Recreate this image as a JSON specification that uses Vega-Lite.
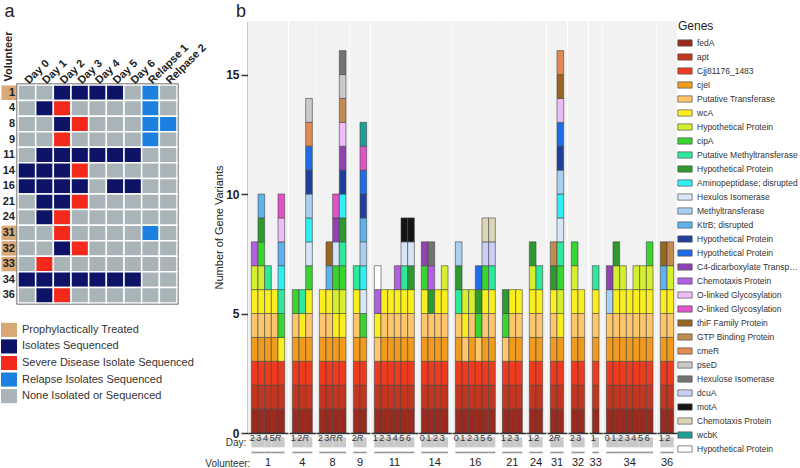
{
"$schema": "https://vega.github.io/schema/vega-lite/v6.json",
"padding": {"left": 0, "top": 3, "right": 0, "bottom": 0},
"config": {"font": "Liberation Sans", "view": {"stroke": null}},
"datasets": {
"genes": [
{"k":"F","name":"fedA"},{"k":"A","name":"apt"},{"k":"C","name":"Cjj81176_1483"},{"k":"J","name":"cjeI"},{"k":"T","name":"Putative Transferase"},{"k":"W","name":"wcA"},{"k":"H1","name":"Hypothetical Protein #1"},{"k":"P","name":"cipA"},{"k":"M","name":"Putative Methyltransferase"},{"k":"H2","name":"Hypothetical Protein #2"},{"k":"Am","name":"Aminopeptidase; disrupted"},{"k":"X","name":"Hexulos Isomerase"},{"k":"Me","name":"Methyltransferase"},{"k":"K","name":"KtrB; disrupted"},{"k":"H3","name":"Hypothetical Protein #3"},{"k":"H4","name":"Hypothetical Protein #4"},{"k":"C4","name":"C4-dicarboxylate Transport"},{"k":"Ch1","name":"Chemotaxis Protein #1"},{"k":"O1","name":"O-linked Glycosylation #1"},{"k":"O2","name":"O-linked Glycosylation #2"},{"k":"Th","name":"thiF Family Protein"},{"k":"G","name":"GTP Binding Protein"},{"k":"Cm","name":"cmeR"},{"k":"Ps","name":"pseD"},{"k":"Hx","name":"Hexulose Isomerase"},{"k":"Dc","name":"dcuA"},{"k":"Mo","name":"motA"},{"k":"Ch2","name":"Chemotaxis Protein #2"},{"k":"Wk","name":"wcbK"},{"k":"H5","name":"Hypothetical Protein #5"}
],
"vol": [
{"v":1,"p":true},{"v":4,"p":false},{"v":8,"p":false},{"v":9,"p":false},{"v":11,"p":false},{"v":14,"p":false},{"v":16,"p":false},{"v":21,"p":false},{"v":24,"p":false},{"v":31,"p":true},{"v":32,"p":true},{"v":33,"p":true},{"v":34,"p":false},{"v":36,"p":false}
],
"legA": [
{"s":"P","label":"Prophylactically Treated"},{"s":"I","label":"Isolates Sequenced"},{"s":"S","label":"Severe Disease Isolate Sequenced"},{"s":"R","label":"Relapse Isolates Sequenced"},{"s":"N","label":"None Isolated or Sequenced"}
],
"cells": [
{"v":1,"c":"D0","s":"N"},{"v":1,"c":"D1","s":"N"},{"v":1,"c":"D2","s":"I"},{"v":1,"c":"D3","s":"I"},{"v":1,"c":"D4","s":"I"},{"v":1,"c":"D5","s":"I"},{"v":1,"c":"D6","s":"N"},{"v":1,"c":"R1","s":"R"},{"v":1,"c":"R2","s":"N"},
{"v":4,"c":"D0","s":"N"},{"v":4,"c":"D1","s":"I"},{"v":4,"c":"D2","s":"S"},{"v":4,"c":"D3","s":"N"},{"v":4,"c":"D4","s":"N"},{"v":4,"c":"D5","s":"N"},{"v":4,"c":"D6","s":"N"},{"v":4,"c":"R1","s":"R"},{"v":4,"c":"R2","s":"N"},
{"v":8,"c":"D0","s":"N"},{"v":8,"c":"D1","s":"N"},{"v":8,"c":"D2","s":"I"},{"v":8,"c":"D3","s":"S"},{"v":8,"c":"D4","s":"N"},{"v":8,"c":"D5","s":"N"},{"v":8,"c":"D6","s":"N"},{"v":8,"c":"R1","s":"R"},{"v":8,"c":"R2","s":"R"},
{"v":9,"c":"D0","s":"N"},{"v":9,"c":"D1","s":"N"},{"v":9,"c":"D2","s":"S"},{"v":9,"c":"D3","s":"N"},{"v":9,"c":"D4","s":"N"},{"v":9,"c":"D5","s":"N"},{"v":9,"c":"D6","s":"N"},{"v":9,"c":"R1","s":"R"},{"v":9,"c":"R2","s":"N"},
{"v":11,"c":"D0","s":"N"},{"v":11,"c":"D1","s":"I"},{"v":11,"c":"D2","s":"I"},{"v":11,"c":"D3","s":"I"},{"v":11,"c":"D4","s":"I"},{"v":11,"c":"D5","s":"I"},{"v":11,"c":"D6","s":"I"},{"v":11,"c":"R1","s":"N"},{"v":11,"c":"R2","s":"N"},
{"v":14,"c":"D0","s":"I"},{"v":14,"c":"D1","s":"I"},{"v":14,"c":"D2","s":"I"},{"v":14,"c":"D3","s":"S"},{"v":14,"c":"D4","s":"N"},{"v":14,"c":"D5","s":"N"},{"v":14,"c":"D6","s":"N"},{"v":14,"c":"R1","s":"N"},{"v":14,"c":"R2","s":"N"},
{"v":16,"c":"D0","s":"I"},{"v":16,"c":"D1","s":"I"},{"v":16,"c":"D2","s":"I"},{"v":16,"c":"D3","s":"I"},{"v":16,"c":"D4","s":"N"},{"v":16,"c":"D5","s":"I"},{"v":16,"c":"D6","s":"I"},{"v":16,"c":"R1","s":"N"},{"v":16,"c":"R2","s":"N"},
{"v":21,"c":"D0","s":"N"},{"v":21,"c":"D1","s":"I"},{"v":21,"c":"D2","s":"I"},{"v":21,"c":"D3","s":"S"},{"v":21,"c":"D4","s":"N"},{"v":21,"c":"D5","s":"N"},{"v":21,"c":"D6","s":"N"},{"v":21,"c":"R1","s":"N"},{"v":21,"c":"R2","s":"N"},
{"v":24,"c":"D0","s":"N"},{"v":24,"c":"D1","s":"I"},{"v":24,"c":"D2","s":"S"},{"v":24,"c":"D3","s":"N"},{"v":24,"c":"D4","s":"N"},{"v":24,"c":"D5","s":"N"},{"v":24,"c":"D6","s":"N"},{"v":24,"c":"R1","s":"N"},{"v":24,"c":"R2","s":"N"},
{"v":31,"c":"D0","s":"N"},{"v":31,"c":"D1","s":"N"},{"v":31,"c":"D2","s":"S"},{"v":31,"c":"D3","s":"N"},{"v":31,"c":"D4","s":"N"},{"v":31,"c":"D5","s":"N"},{"v":31,"c":"D6","s":"N"},{"v":31,"c":"R1","s":"R"},{"v":31,"c":"R2","s":"N"},
{"v":32,"c":"D0","s":"N"},{"v":32,"c":"D1","s":"N"},{"v":32,"c":"D2","s":"I"},{"v":32,"c":"D3","s":"S"},{"v":32,"c":"D4","s":"N"},{"v":32,"c":"D5","s":"N"},{"v":32,"c":"D6","s":"N"},{"v":32,"c":"R1","s":"N"},{"v":32,"c":"R2","s":"N"},
{"v":33,"c":"D0","s":"N"},{"v":33,"c":"D1","s":"S"},{"v":33,"c":"D2","s":"N"},{"v":33,"c":"D3","s":"N"},{"v":33,"c":"D4","s":"N"},{"v":33,"c":"D5","s":"N"},{"v":33,"c":"D6","s":"N"},{"v":33,"c":"R1","s":"N"},{"v":33,"c":"R2","s":"N"},
{"v":34,"c":"D0","s":"I"},{"v":34,"c":"D1","s":"I"},{"v":34,"c":"D2","s":"I"},{"v":34,"c":"D3","s":"I"},{"v":34,"c":"D4","s":"I"},{"v":34,"c":"D5","s":"I"},{"v":34,"c":"D6","s":"I"},{"v":34,"c":"R1","s":"N"},{"v":34,"c":"R2","s":"N"},
{"v":36,"c":"D0","s":"N"},{"v":36,"c":"D1","s":"I"},{"v":36,"c":"D2","s":"S"},{"v":36,"c":"D3","s":"N"},{"v":36,"c":"D4","s":"N"},{"v":36,"c":"D5","s":"N"},{"v":36,"c":"D6","s":"N"},{"v":36,"c":"R1","s":"N"},{"v":36,"c":"R2","s":"N"}
],
"seg": [
{"v":1,"d":"2","o":1,"g":"F"},{"v":1,"d":"2","o":2,"g":"A"},{"v":1,"d":"2","o":3,"g":"C"},{"v":1,"d":"2","o":4,"g":"J"},{"v":1,"d":"2","o":5,"g":"T"},{"v":1,"d":"2","o":6,"g":"W"},{"v":1,"d":"2","o":7,"g":"H1"},{"v":1,"d":"2","o":8,"g":"Ch1"},
{"v":1,"d":"3","o":1,"g":"F"},{"v":1,"d":"3","o":2,"g":"A"},{"v":1,"d":"3","o":3,"g":"C"},{"v":1,"d":"3","o":4,"g":"J"},{"v":1,"d":"3","o":5,"g":"T"},{"v":1,"d":"3","o":6,"g":"W"},{"v":1,"d":"3","o":7,"g":"H1"},{"v":1,"d":"3","o":8,"g":"P"},{"v":1,"d":"3","o":9,"g":"H2"},{"v":1,"d":"3","o":10,"g":"K"},
{"v":1,"d":"4","o":1,"g":"F"},{"v":1,"d":"4","o":2,"g":"A"},{"v":1,"d":"4","o":3,"g":"C"},{"v":1,"d":"4","o":4,"g":"J"},{"v":1,"d":"4","o":5,"g":"T"},{"v":1,"d":"4","o":6,"g":"W"},{"v":1,"d":"4","o":7,"g":"M"},
{"v":1,"d":"5","o":1,"g":"F"},{"v":1,"d":"5","o":2,"g":"A"},{"v":1,"d":"5","o":3,"g":"C"},{"v":1,"d":"5","o":4,"g":"J"},{"v":1,"d":"5","o":5,"g":"T"},{"v":1,"d":"5","o":6,"g":"W"},
{"v":1,"d":"R","o":1,"g":"F"},{"v":1,"d":"R","o":2,"g":"A"},{"v":1,"d":"R","o":3,"g":"C"},{"v":1,"d":"R","o":4,"g":"W"},{"v":1,"d":"R","o":5,"g":"P"},{"v":1,"d":"R","o":6,"g":"M"},{"v":1,"d":"R","o":7,"g":"Am"},{"v":1,"d":"R","o":8,"g":"K"},{"v":1,"d":"R","o":9,"g":"O1"},{"v":1,"d":"R","o":10,"g":"O2"},
{"v":4,"d":"1","o":1,"g":"F"},{"v":4,"d":"1","o":2,"g":"A"},{"v":4,"d":"1","o":3,"g":"C"},{"v":4,"d":"1","o":4,"g":"J"},{"v":4,"d":"1","o":5,"g":"T"},{"v":4,"d":"1","o":6,"g":"P"},
{"v":4,"d":"2","o":1,"g":"F"},{"v":4,"d":"2","o":2,"g":"A"},{"v":4,"d":"2","o":3,"g":"C"},{"v":4,"d":"2","o":4,"g":"J"},{"v":4,"d":"2","o":5,"g":"W"},{"v":4,"d":"2","o":6,"g":"M"},
{"v":4,"d":"R","o":1,"g":"F"},{"v":4,"d":"R","o":2,"g":"A"},{"v":4,"d":"R","o":3,"g":"C"},{"v":4,"d":"R","o":4,"g":"J"},{"v":4,"d":"R","o":5,"g":"T"},{"v":4,"d":"R","o":6,"g":"W"},{"v":4,"d":"R","o":7,"g":"P"},{"v":4,"d":"R","o":8,"g":"X"},{"v":4,"d":"R","o":9,"g":"Am"},{"v":4,"d":"R","o":10,"g":"Me"},{"v":4,"d":"R","o":11,"g":"H3"},{"v":4,"d":"R","o":12,"g":"H4"},{"v":4,"d":"R","o":13,"g":"Cm"},{"v":4,"d":"R","o":14,"g":"Ps"},
{"v":8,"d":"2","o":1,"g":"F"},{"v":8,"d":"2","o":2,"g":"A"},{"v":8,"d":"2","o":3,"g":"C"},{"v":8,"d":"2","o":4,"g":"J"},{"v":8,"d":"2","o":5,"g":"T"},{"v":8,"d":"2","o":6,"g":"W"},
{"v":8,"d":"3","o":1,"g":"F"},{"v":8,"d":"3","o":2,"g":"A"},{"v":8,"d":"3","o":3,"g":"C"},{"v":8,"d":"3","o":4,"g":"J"},{"v":8,"d":"3","o":5,"g":"T"},{"v":8,"d":"3","o":6,"g":"W"},{"v":8,"d":"3","o":7,"g":"K"},{"v":8,"d":"3","o":8,"g":"Th"},
{"v":8,"d":"R","o":1,"g":"F"},{"v":8,"d":"R","o":2,"g":"A"},{"v":8,"d":"R","o":3,"g":"C"},{"v":8,"d":"R","o":4,"g":"J"},{"v":8,"d":"R","o":5,"g":"W"},{"v":8,"d":"R","o":6,"g":"H1"},{"v":8,"d":"R","o":7,"g":"P"},{"v":8,"d":"R","o":8,"g":"X"},{"v":8,"d":"R","o":9,"g":"C4"},{"v":8,"d":"R","o":10,"g":"O2"},
{"v":8,"d":"R#2","o":1,"g":"F"},{"v":8,"d":"R#2","o":2,"g":"A"},{"v":8,"d":"R#2","o":3,"g":"C"},{"v":8,"d":"R#2","o":4,"g":"J"},{"v":8,"d":"R#2","o":5,"g":"W"},{"v":8,"d":"R#2","o":6,"g":"H1"},{"v":8,"d":"R#2","o":7,"g":"P"},{"v":8,"d":"R#2","o":8,"g":"M"},{"v":8,"d":"R#2","o":9,"g":"H2"},{"v":8,"d":"R#2","o":10,"g":"Am"},{"v":8,"d":"R#2","o":11,"g":"H3"},{"v":8,"d":"R#2","o":12,"g":"C4"},{"v":8,"d":"R#2","o":13,"g":"O1"},{"v":8,"d":"R#2","o":14,"g":"G"},{"v":8,"d":"R#2","o":15,"g":"Ps"},{"v":8,"d":"R#2","o":16,"g":"Hx"},
{"v":9,"d":"2","o":1,"g":"F"},{"v":9,"d":"2","o":2,"g":"A"},{"v":9,"d":"2","o":3,"g":"C"},{"v":9,"d":"2","o":4,"g":"J"},{"v":9,"d":"2","o":5,"g":"T"},{"v":9,"d":"2","o":6,"g":"W"},{"v":9,"d":"2","o":7,"g":"M"},
{"v":9,"d":"R","o":1,"g":"F"},{"v":9,"d":"R","o":2,"g":"A"},{"v":9,"d":"R","o":3,"g":"C"},{"v":9,"d":"R","o":4,"g":"J"},{"v":9,"d":"R","o":5,"g":"P"},{"v":9,"d":"R","o":6,"g":"X"},{"v":9,"d":"R","o":7,"g":"Am"},{"v":9,"d":"R","o":8,"g":"Me"},{"v":9,"d":"R","o":9,"g":"K"},{"v":9,"d":"R","o":10,"g":"H3"},{"v":9,"d":"R","o":11,"g":"H4"},{"v":9,"d":"R","o":12,"g":"O2"},{"v":9,"d":"R","o":13,"g":"Wk"},
{"v":11,"d":"1","o":1,"g":"F"},{"v":11,"d":"1","o":2,"g":"A"},{"v":11,"d":"1","o":3,"g":"C"},{"v":11,"d":"1","o":4,"g":"T"},{"v":11,"d":"1","o":5,"g":"W"},{"v":11,"d":"1","o":6,"g":"Ch1"},{"v":11,"d":"1","o":7,"g":"H5"},
{"v":11,"d":"2","o":1,"g":"F"},{"v":11,"d":"2","o":2,"g":"A"},{"v":11,"d":"2","o":3,"g":"C"},{"v":11,"d":"2","o":4,"g":"J"},{"v":11,"d":"2","o":5,"g":"T"},{"v":11,"d":"2","o":6,"g":"W"},
{"v":11,"d":"3","o":1,"g":"F"},{"v":11,"d":"3","o":2,"g":"A"},{"v":11,"d":"3","o":3,"g":"C"},{"v":11,"d":"3","o":4,"g":"J"},{"v":11,"d":"3","o":5,"g":"T"},{"v":11,"d":"3","o":6,"g":"W"},
{"v":11,"d":"4","o":1,"g":"F"},{"v":11,"d":"4","o":2,"g":"A"},{"v":11,"d":"4","o":3,"g":"C"},{"v":11,"d":"4","o":4,"g":"J"},{"v":11,"d":"4","o":5,"g":"T"},{"v":11,"d":"4","o":6,"g":"W"},{"v":11,"d":"4","o":7,"g":"Ch1"},
{"v":11,"d":"5","o":1,"g":"F"},{"v":11,"d":"5","o":2,"g":"A"},{"v":11,"d":"5","o":3,"g":"C"},{"v":11,"d":"5","o":4,"g":"J"},{"v":11,"d":"5","o":5,"g":"T"},{"v":11,"d":"5","o":6,"g":"W"},{"v":11,"d":"5","o":7,"g":"M"},{"v":11,"d":"5","o":8,"g":"X"},{"v":11,"d":"5","o":9,"g":"Mo"},
{"v":11,"d":"6","o":1,"g":"F"},{"v":11,"d":"6","o":2,"g":"A"},{"v":11,"d":"6","o":3,"g":"C"},{"v":11,"d":"6","o":4,"g":"J"},{"v":11,"d":"6","o":5,"g":"T"},{"v":11,"d":"6","o":6,"g":"W"},{"v":11,"d":"6","o":7,"g":"H2"},{"v":11,"d":"6","o":8,"g":"X"},{"v":11,"d":"6","o":9,"g":"Mo"},
{"v":14,"d":"0","o":1,"g":"F"},{"v":14,"d":"0","o":2,"g":"A"},{"v":14,"d":"0","o":3,"g":"C"},{"v":14,"d":"0","o":4,"g":"J"},{"v":14,"d":"0","o":5,"g":"T"},{"v":14,"d":"0","o":6,"g":"W"},{"v":14,"d":"0","o":7,"g":"P"},{"v":14,"d":"0","o":8,"g":"C4"},
{"v":14,"d":"1","o":1,"g":"F"},{"v":14,"d":"1","o":2,"g":"A"},{"v":14,"d":"1","o":3,"g":"C"},{"v":14,"d":"1","o":4,"g":"J"},{"v":14,"d":"1","o":5,"g":"T"},{"v":14,"d":"1","o":6,"g":"H2"},{"v":14,"d":"1","o":7,"g":"Ch1"},{"v":14,"d":"1","o":8,"g":"Hx"},
{"v":14,"d":"2","o":1,"g":"F"},{"v":14,"d":"2","o":2,"g":"A"},{"v":14,"d":"2","o":3,"g":"C"},{"v":14,"d":"2","o":4,"g":"J"},{"v":14,"d":"2","o":5,"g":"T"},{"v":14,"d":"2","o":6,"g":"W"},
{"v":14,"d":"3","o":1,"g":"F"},{"v":14,"d":"3","o":2,"g":"A"},{"v":14,"d":"3","o":3,"g":"C"},{"v":14,"d":"3","o":4,"g":"J"},{"v":14,"d":"3","o":5,"g":"T"},{"v":14,"d":"3","o":6,"g":"W"},{"v":14,"d":"3","o":7,"g":"H1"},
{"v":16,"d":"0","o":1,"g":"F"},{"v":16,"d":"0","o":2,"g":"A"},{"v":16,"d":"0","o":3,"g":"C"},{"v":16,"d":"0","o":4,"g":"J"},{"v":16,"d":"0","o":5,"g":"T"},{"v":16,"d":"0","o":6,"g":"M"},{"v":16,"d":"0","o":7,"g":"H2"},{"v":16,"d":"0","o":8,"g":"Me"},
{"v":16,"d":"1","o":1,"g":"F"},{"v":16,"d":"1","o":2,"g":"A"},{"v":16,"d":"1","o":3,"g":"C"},{"v":16,"d":"1","o":4,"g":"T"},{"v":16,"d":"1","o":5,"g":"W"},{"v":16,"d":"1","o":6,"g":"H1"},
{"v":16,"d":"2","o":1,"g":"F"},{"v":16,"d":"2","o":2,"g":"A"},{"v":16,"d":"2","o":3,"g":"C"},{"v":16,"d":"2","o":4,"g":"J"},{"v":16,"d":"2","o":5,"g":"T"},{"v":16,"d":"2","o":6,"g":"H1"},
{"v":16,"d":"3","o":1,"g":"F"},{"v":16,"d":"3","o":2,"g":"A"},{"v":16,"d":"3","o":3,"g":"C"},{"v":16,"d":"3","o":4,"g":"T"},{"v":16,"d":"3","o":5,"g":"P"},{"v":16,"d":"3","o":6,"g":"H2"},{"v":16,"d":"3","o":7,"g":"H4"},
{"v":16,"d":"5","o":1,"g":"F"},{"v":16,"d":"5","o":2,"g":"A"},{"v":16,"d":"5","o":3,"g":"C"},{"v":16,"d":"5","o":4,"g":"J"},{"v":16,"d":"5","o":5,"g":"T"},{"v":16,"d":"5","o":6,"g":"W"},{"v":16,"d":"5","o":7,"g":"P"},{"v":16,"d":"5","o":8,"g":"Dc"},{"v":16,"d":"5","o":9,"g":"Ch2"},
{"v":16,"d":"6","o":1,"g":"F"},{"v":16,"d":"6","o":2,"g":"A"},{"v":16,"d":"6","o":3,"g":"C"},{"v":16,"d":"6","o":4,"g":"J"},{"v":16,"d":"6","o":5,"g":"T"},{"v":16,"d":"6","o":6,"g":"W"},{"v":16,"d":"6","o":7,"g":"M"},{"v":16,"d":"6","o":8,"g":"Dc"},{"v":16,"d":"6","o":9,"g":"Ch2"},
{"v":21,"d":"1","o":1,"g":"F"},{"v":21,"d":"1","o":2,"g":"A"},{"v":21,"d":"1","o":3,"g":"C"},{"v":21,"d":"1","o":4,"g":"T"},{"v":21,"d":"1","o":5,"g":"P"},{"v":21,"d":"1","o":6,"g":"H2"},
{"v":21,"d":"2","o":1,"g":"F"},{"v":21,"d":"2","o":2,"g":"A"},{"v":21,"d":"2","o":3,"g":"C"},{"v":21,"d":"2","o":4,"g":"J"},{"v":21,"d":"2","o":5,"g":"T"},{"v":21,"d":"2","o":6,"g":"W"},
{"v":21,"d":"3","o":1,"g":"F"},{"v":21,"d":"3","o":2,"g":"A"},{"v":21,"d":"3","o":3,"g":"C"},{"v":21,"d":"3","o":4,"g":"J"},{"v":21,"d":"3","o":5,"g":"T"},{"v":21,"d":"3","o":6,"g":"W"},
{"v":24,"d":"1","o":1,"g":"F"},{"v":24,"d":"1","o":2,"g":"A"},{"v":24,"d":"1","o":3,"g":"C"},{"v":24,"d":"1","o":4,"g":"J"},{"v":24,"d":"1","o":5,"g":"T"},{"v":24,"d":"1","o":6,"g":"W"},{"v":24,"d":"1","o":7,"g":"H1"},{"v":24,"d":"1","o":8,"g":"H2"},
{"v":24,"d":"2","o":1,"g":"F"},{"v":24,"d":"2","o":2,"g":"A"},{"v":24,"d":"2","o":3,"g":"C"},{"v":24,"d":"2","o":4,"g":"J"},{"v":24,"d":"2","o":5,"g":"T"},{"v":24,"d":"2","o":6,"g":"W"},{"v":24,"d":"2","o":7,"g":"M"},
{"v":31,"d":"2","o":1,"g":"F"},{"v":31,"d":"2","o":2,"g":"A"},{"v":31,"d":"2","o":3,"g":"C"},{"v":31,"d":"2","o":4,"g":"J"},{"v":31,"d":"2","o":5,"g":"T"},{"v":31,"d":"2","o":6,"g":"W"},{"v":31,"d":"2","o":7,"g":"H2"},{"v":31,"d":"2","o":8,"g":"G"},
{"v":31,"d":"R","o":1,"g":"F"},{"v":31,"d":"R","o":2,"g":"A"},{"v":31,"d":"R","o":3,"g":"C"},{"v":31,"d":"R","o":4,"g":"J"},{"v":31,"d":"R","o":5,"g":"W"},{"v":31,"d":"R","o":6,"g":"H1"},{"v":31,"d":"R","o":7,"g":"P"},{"v":31,"d":"R","o":8,"g":"M"},{"v":31,"d":"R","o":9,"g":"X"},{"v":31,"d":"R","o":10,"g":"Am"},{"v":31,"d":"R","o":11,"g":"Me"},{"v":31,"d":"R","o":12,"g":"H3"},{"v":31,"d":"R","o":13,"g":"H4"},{"v":31,"d":"R","o":14,"g":"O1"},{"v":31,"d":"R","o":15,"g":"Th"},{"v":31,"d":"R","o":16,"g":"Cm"},
{"v":32,"d":"2","o":1,"g":"F"},{"v":32,"d":"2","o":2,"g":"A"},{"v":32,"d":"2","o":3,"g":"C"},{"v":32,"d":"2","o":4,"g":"J"},{"v":32,"d":"2","o":5,"g":"T"},{"v":32,"d":"2","o":6,"g":"W"},{"v":32,"d":"2","o":7,"g":"H1"},{"v":32,"d":"2","o":8,"g":"P"},
{"v":32,"d":"3","o":1,"g":"F"},{"v":32,"d":"3","o":2,"g":"A"},{"v":32,"d":"3","o":3,"g":"C"},{"v":32,"d":"3","o":4,"g":"J"},{"v":32,"d":"3","o":5,"g":"T"},{"v":32,"d":"3","o":6,"g":"W"},
{"v":33,"d":"1","o":1,"g":"F"},{"v":33,"d":"1","o":2,"g":"A"},{"v":33,"d":"1","o":3,"g":"C"},{"v":33,"d":"1","o":4,"g":"J"},{"v":33,"d":"1","o":5,"g":"T"},{"v":33,"d":"1","o":6,"g":"W"},{"v":33,"d":"1","o":7,"g":"M"},
{"v":34,"d":"0","o":1,"g":"F"},{"v":34,"d":"0","o":2,"g":"A"},{"v":34,"d":"0","o":3,"g":"C"},{"v":34,"d":"0","o":4,"g":"J"},{"v":34,"d":"0","o":5,"g":"T"},{"v":34,"d":"0","o":6,"g":"Me"},{"v":34,"d":"0","o":7,"g":"C4"},
{"v":34,"d":"1","o":1,"g":"F"},{"v":34,"d":"1","o":2,"g":"A"},{"v":34,"d":"1","o":3,"g":"C"},{"v":34,"d":"1","o":4,"g":"J"},{"v":34,"d":"1","o":5,"g":"T"},{"v":34,"d":"1","o":6,"g":"W"},{"v":34,"d":"1","o":7,"g":"H1"},{"v":34,"d":"1","o":8,"g":"H2"},
{"v":34,"d":"2","o":1,"g":"F"},{"v":34,"d":"2","o":2,"g":"A"},{"v":34,"d":"2","o":3,"g":"C"},{"v":34,"d":"2","o":4,"g":"J"},{"v":34,"d":"2","o":5,"g":"T"},{"v":34,"d":"2","o":6,"g":"W"},{"v":34,"d":"2","o":7,"g":"H1"},
{"v":34,"d":"3","o":1,"g":"F"},{"v":34,"d":"3","o":2,"g":"A"},{"v":34,"d":"3","o":3,"g":"C"},{"v":34,"d":"3","o":4,"g":"J"},{"v":34,"d":"3","o":5,"g":"T"},{"v":34,"d":"3","o":6,"g":"W"},
{"v":34,"d":"4","o":1,"g":"F"},{"v":34,"d":"4","o":2,"g":"A"},{"v":34,"d":"4","o":3,"g":"C"},{"v":34,"d":"4","o":4,"g":"J"},{"v":34,"d":"4","o":5,"g":"T"},{"v":34,"d":"4","o":6,"g":"W"},{"v":34,"d":"4","o":7,"g":"H1"},
{"v":34,"d":"5","o":1,"g":"F"},{"v":34,"d":"5","o":2,"g":"A"},{"v":34,"d":"5","o":3,"g":"C"},{"v":34,"d":"5","o":4,"g":"J"},{"v":34,"d":"5","o":5,"g":"T"},{"v":34,"d":"5","o":6,"g":"W"},{"v":34,"d":"5","o":7,"g":"H1"},
{"v":34,"d":"6","o":1,"g":"F"},{"v":34,"d":"6","o":2,"g":"A"},{"v":34,"d":"6","o":3,"g":"C"},{"v":34,"d":"6","o":4,"g":"J"},{"v":34,"d":"6","o":5,"g":"T"},{"v":34,"d":"6","o":6,"g":"W"},{"v":34,"d":"6","o":7,"g":"H1"},{"v":34,"d":"6","o":8,"g":"P"},
{"v":36,"d":"1","o":1,"g":"F"},{"v":36,"d":"1","o":2,"g":"A"},{"v":36,"d":"1","o":3,"g":"C"},{"v":36,"d":"1","o":4,"g":"J"},{"v":36,"d":"1","o":5,"g":"T"},{"v":36,"d":"1","o":6,"g":"W"},{"v":36,"d":"1","o":7,"g":"K"},{"v":36,"d":"1","o":8,"g":"Th"},
{"v":36,"d":"2","o":1,"g":"F"},{"v":36,"d":"2","o":2,"g":"A"},{"v":36,"d":"2","o":3,"g":"C"},{"v":36,"d":"2","o":4,"g":"J"},{"v":36,"d":"2","o":5,"g":"T"},{"v":36,"d":"2","o":6,"g":"W"},{"v":36,"d":"2","o":7,"g":"H1"},{"v":36,"d":"2","o":8,"g":"G"}
]
},
"spacing": -5,
"resolve": {"scale": {"color": "independent"}},
"hconcat": [
{
"title": {"text": "a", "anchor": "start", "fontSize": 18, "fontWeight": "normal", "offset": 0, "dx": 4, "color": "#222"},
"spacing": 0,
"vconcat": [
{"width": 10, "height": 10, "data": {"values": []}, "mark": "rect", "encoding": {}},
{
"spacing": 16,
"vconcat": [
{
"spacing": 1,
"bounds": "flush",
"hconcat": [
{
"data": {"name": "vol"},
"width": 16, "height": 218,
"view": {"stroke": null},
"layer": [
{"transform": [{"filter": "datum.p"}],
 "mark": {"type": "rect", "fill": "#d9a877", "stroke": "white", "strokeWidth": 1},
 "encoding": {
  "x": {"datum": "Volunteer", "type": "nominal", "axis": {"orient": "top", "title": null, "labelAngle": 270, "labelAlign": "left", "labelBaseline": "middle", "ticks": false, "domain": false, "labelFontSize": 11, "labelFontWeight": "bold", "labelColor": "#222", "labelPadding": 4}},
  "y": {"field": "v", "type": "ordinal", "axis": null}}},
{"mark": {"type": "text", "align": "right", "dx": 6, "fontSize": 11, "fontWeight": "bold", "color": "#222"},
 "encoding": {
  "x": {"datum": "Volunteer", "type": "nominal"},
  "y": {"field": "v", "type": "ordinal"},
  "text": {"field": "v"}}}
]
},
{
"data": {"name": "cells"},
"width": 159, "height": 218,
"view": {"stroke": "#3a3a3a", "strokeWidth": 3},
"mark": {"type": "rect", "stroke": "white", "strokeWidth": 1.5},
"encoding": {
 "x": {"field": "c", "type": "nominal", "scale": {"domain": ["D0","D1","D2","D3","D4","D5","D6","R1","R2"]},
  "axis": {"orient": "top", "title": null, "labelAngle": -45, "labelAlign": "left", "labelBaseline": "middle", "ticks": false, "domain": false, "labelFontSize": 11, "labelFontWeight": "bold", "labelColor": "#222", "labelPadding": 3,
   "labelExpr": "datum.value == 'R1' ? 'Relapse 1' : datum.value == 'R2' ? 'Relpase 2' : 'Day ' + substring(datum.value, 1)"}},
 "y": {"field": "v", "type": "ordinal", "axis": null},
 "color": {"field": "s", "type": "nominal", "scale": {"domain": ["P","I","S","R","N"], "range": ["#d9a877","#0d1468","#f2291b","#1b80e2","#a9b4b8"]}, "legend": null}
}
}
]
},
{
"data": {"name": "legA"},
"width": 100, "height": 82,
"view": {"stroke": null},
"encoding": {"y": {"field": "s", "type": "nominal", "sort": null, "axis": null, "scale": {"paddingInner": 0.15, "paddingOuter": 0.05}}},
"layer": [
{"mark": {"type": "rect"},
 "encoding": {
  "x": {"datum": 0, "type": "quantitative", "scale": {"domain": [0, 100], "nice": false, "zero": false}, "axis": null},
  "x2": {"datum": 16},
  "color": {"field": "s", "type": "nominal", "scale": {"domain": ["P","I","S","R","N"], "range": ["#d9a877","#0d1468","#f2291b","#1b80e2","#a9b4b8"]}, "legend": null}}},
{"mark": {"type": "text", "align": "left", "baseline": "middle", "fontSize": 11, "color": "#333"},
 "encoding": {
  "x": {"datum": 21, "type": "quantitative"},
  "text": {"field": "label"}}}
]
}
]
}
]
},
{
"title": {"text": "b", "anchor": "start", "frame": "group", "fontSize": 18, "fontWeight": "normal", "offset": 0, "dx": -12, "color": "#222"},
"data": {"name": "seg"},
"transform": [{"lookup": "g", "from": {"data": {"name": "genes"}, "key": "k", "fields": ["name"]}}],
"facet": {"column": {"field": "v", "type": "ordinal", "title": null, "header": {"labelOrient": "bottom", "labelFontSize": 11, "labelColor": "#222", "labelPadding": 24}}},
"spacing": 0,
"align": "none",
"bounds": "flush",
"resolve": {"scale": {"x": "independent"}, "axis": {"x": "independent"}},
"spec": {
"width": {"step": 6.667},
"height": 412,
"view": {"fill": "#f2f2f2", "stroke": null},
"layer": [
{"transform": [{"aggregate": [{"op": "count", "as": "n"}], "groupby": ["v","d"]}],
 "mark": {"type": "rect", "fill": "#c9c9c9"},
 "encoding": {"x": {"field": "d", "type": "nominal"}, "y": {"datum": -0.18}, "y2": {"datum": -0.6}}},
{"transform": [{"aggregate": [{"op": "count", "as": "n"}], "groupby": ["v","d"]}],
 "mark": {"type": "rect", "fill": "#9a9a9a"},
 "encoding": {"x": {"field": "d", "type": "nominal"}, "y": {"datum": -0.78}, "y2": {"datum": -0.85}}},
{"mark": {"type": "bar", "stroke": "#444", "strokeWidth": 0.6},
 "encoding": {
  "x": {"field": "d", "type": "nominal", "scale": {"paddingInner": 0, "paddingOuter": 0.5},
   "axis": {"title": null, "ticks": false, "domainColor": "#333", "domainWidth": 1.5, "labelAngle": 0, "labelFontSize": 9, "labelColor": "#333", "labelPadding": 4, "zindex": 1, "labelOverlap": false,
    "labelExpr": "split(datum.label, '#')[0]",
    "labelFontStyle": {"condition": {"test": "indexof(datum.value, 'R') >= 0", "value": "italic"}, "value": "normal"}}},
  "y": {"aggregate": "count", "type": "quantitative", "scale": {"domain": [0, 17.24], "nice": false},
   "axis": {"title": "Number of Gene Variants", "values": [0,5,10,15], "grid": false, "tickSize": 7, "tickColor": "#333", "tickWidth": 1.5, "domainColor": "#333", "domainWidth": 1.5, "labelFontSize": 12, "labelFontWeight": "bold", "labelColor": "#222", "labelPadding": 2, "titleFontSize": 11, "titleFontWeight": "normal", "titleColor": "#222", "titlePadding": 1}},
  "color": {"field": "name", "type": "nominal",
   "scale": {"domain": ["fedA","apt","Cjj81176_1483","cjeI","Putative Transferase","wcA","Hypothetical Protein #1","cipA","Putative Methyltransferase","Hypothetical Protein #2","Aminopeptidase; disrupted","Hexulos Isomerase","Methyltransferase","KtrB; disrupted","Hypothetical Protein #3","Hypothetical Protein #4","C4-dicarboxylate Transport","Chemotaxis Protein #1","O-linked Glycosylation #1","O-linked Glycosylation #2","thiF Family Protein","GTP Binding Protein","cmeR","pseD","Hexulose Isomerase","dcuA","motA","Chemotaxis Protein #2","wcbK","Hypothetical Protein #5"],
    "range": ["#9b2a1e","#c2361f","#ee3a1e","#f09a1e","#fdc66b","#fbee1f","#d5ee2e","#39d42f","#2ee89c","#2c9a2c","#2ef0f2","#d6e6f7","#a9d0f1","#5fb3ec","#1e3f9b","#1f6ce6","#8f44b2","#b35fe3","#ecbdf5","#e053c4","#98661f","#c28b52","#e38a4e","#c9c9c9","#737373","#c9cff7","#141414","#ddd6b6","#1f9e96","#ffffff"]},
   "legend": {"title": "Genes", "orient": "right", "offset": 0, "titleFontSize": 12, "titleFontWeight": "normal", "titleColor": "#222", "titlePadding": 3, "labelFontSize": 8.5, "labelColor": "#333", "labelLimit": 102, "labelOffset": 5,
    "labelExpr": "split(datum.label, ' #')[0]", "symbolType": "M-1.1,-0.48H1.1V0.48H-1.1Z", "symbolSize": 170, "symbolStrokeColor": "#555", "symbolStrokeWidth": 0.7, "rowPadding": 2}},
  "order": {"field": "o", "type": "quantitative"}}},
{"transform": [{"filter": "datum.v == 1 && datum.d == '2'"}, {"aggregate": [{"op": "count", "as": "n"}], "groupby": ["v","d"]}],
 "mark": {"type": "text", "text": "Day:", "align": "right", "baseline": "middle", "dx": -5, "fontSize": 10, "color": "#333"},
 "encoding": {"x": {"field": "d", "type": "nominal", "bandPosition": 0}, "y": {"datum": -0.42}}},
{"transform": [{"filter": "datum.v == 1 && datum.d == '2'"}, {"aggregate": [{"op": "count", "as": "n"}], "groupby": ["v","d"]}],
 "mark": {"type": "text", "text": "Volunteer:", "align": "right", "baseline": "middle", "dx": -1, "fontSize": 10, "color": "#333"},
 "encoding": {"x": {"field": "d", "type": "nominal", "bandPosition": 0}, "y": {"datum": -1.28}}}
]
}
}
]
}
